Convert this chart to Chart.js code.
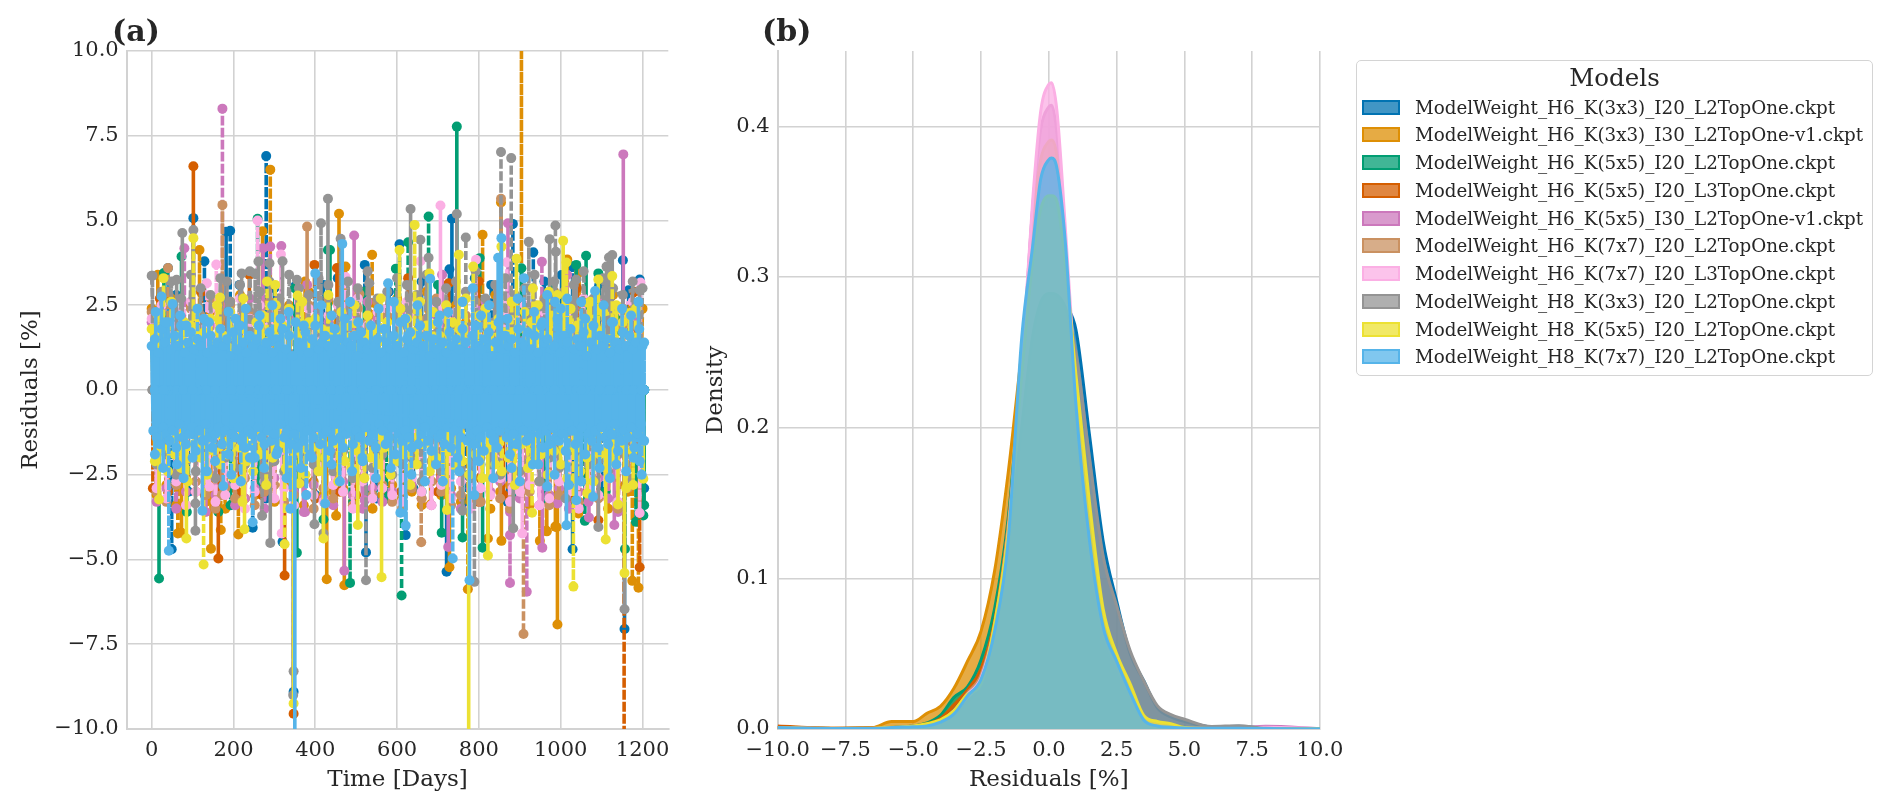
<!DOCTYPE html>
<html><head><meta charset="utf-8">
<script src="https://cdn.jsdelivr.net/npm/chart.js@4"></script>
<style>
html,body{margin:0;padding:0;background:#fff;overflow:hidden;width:1892px;height:811px}
canvas{position:absolute;top:0}
#legend{position:absolute;left:1356px;top:60px;width:517px;height:316px;border:1.5px solid #d4d4d4;border-radius:5px;box-sizing:border-box;font-family:"DejaVu Serif",serif;color:#262626}
#legend .t{position:absolute;left:0;right:0;top:0;text-align:center;font-size:24.5px;line-height:33px}
#legend .r{position:absolute;left:5px;height:28px;white-space:nowrap;font-size:18.3px;line-height:28px}
#legend .s{position:absolute;left:0;top:6px;width:38px;height:15px;box-sizing:border-box;border-width:2.5px;border-style:solid}
#legend .l{position:absolute;left:53px;top:0}
</style></head><body>
<canvas id="ca" width="690" height="811" style="left:0;width:690px;height:811px"></canvas>
<canvas id="cb" width="670" height="811" style="left:690px;width:670px;height:811px"></canvas>
<div id="legend"></div>
<script>
const modelNames=["ModelWeight_H6_K(3x3)_I20_L2TopOne.ckpt","ModelWeight_H6_K(3x3)_I30_L2TopOne-v1.ckpt","ModelWeight_H6_K(5x5)_I20_L2TopOne.ckpt","ModelWeight_H6_K(5x5)_I20_L3TopOne.ckpt","ModelWeight_H6_K(5x5)_I30_L2TopOne-v1.ckpt","ModelWeight_H6_K(7x7)_I20_L2TopOne.ckpt","ModelWeight_H6_K(7x7)_I20_L3TopOne.ckpt","ModelWeight_H8_K(3x3)_I20_L2TopOne.ckpt","ModelWeight_H8_K(5x5)_I20_L2TopOne.ckpt","ModelWeight_H8_K(7x7)_I20_L2TopOne.ckpt"];
const colors=["#0173B2","#DE8F05","#029E73","#D55E00","#CC78BC","#CA9161","#FBAFE4","#949494","#ECE133","#56B4E9"];
const xTicksA=[0,200,400,600,800,1000,1200];
const yTicksA=[-10,-7.5,-5,-2.5,0,2.5,5,7.5,10];
const xTicksB=[-10,-7.5,-5,-2.5,0,2.5,5,7.5,10];
const yTicksB=[0,0.1,0.2,0.3,0.4];

// Panel (a): day,residual pairs
const spikes0=[102,5.07,129,3.8,182,4.67,192,4.7,40,3.6,280,6.9,521,3.69,606,4.3,734,5.05,728,3.56,883,4.9,933,4.06,1029,3.64,1002,3.39,1094,3.09,1152,3.83,1166,2.94,1193,3.26,60,2.8,215,3.1,300,3,350,3.05,420,3.1,455,3.3,580,2.9,660,3.2,790,3.3,830,3.1,960,3.2,49,-4.7,247,-4.06,320,-4.48,347,-8.9,524,-4.79,621,-4.28,721,-5.36,973,-3.12,1029,-4.7,1156,-7.05,1204,-2.9,90,-3,160,-3.1,280,-3.2,400,-3.1,550,-3.2,640,-2.9,770,-3.4,870,-3.3,1100,-3];
const spikes1=[15,3.4,117,4.13,375,3.2,271,4.68,290,6.5,458,5.2,474,3.64,539,3.99,809,4.58,854,5.53,904,14,1016,3.85,1045,3.47,64,-4.23,73,-4.21,145,-4.68,169,-4.13,212,-4.26,428,-5.58,451,-3.71,471,-5.76,682,-3.38,728,-5.23,773,-5.88,822,-4.38,855,-4.45,949,-4.45,965,-4.15,987,-4.03,966,-4.17,990,-4.05,992,-6.92,1043,-3.64,1175,-5.63,1190,-5.83];
const spikes2=[30,3.45,73,3.94,259,5.05,431,4.13,436,4.13,597,3.58,627,4.36,677,5.12,746,7.77,802,3.89,904,3.59,1038,3.69,1062,3.96,1092,3.44,1140,2.45,350,3,520,2.9,700,3.1,980,3.1,18,-5.56,86,-3.6,163,-3.6,193,-3.4,355,-4.8,420,-3.82,485,-5.69,574,-3.2,611,-6.06,709,-4.21,760,-4.35,809,-4.65,1059,-3.86,1157,-4.69,1184,-3.89,1202,-3.7,1204,-3.4,60,-2.7,260,-2.9,540,-3,660,-3,900,-3.1,960,-3.2,1110,-3];
const spikes3=[102,6.6,398,3.69,122,2.9,239,3.4,453,3.6,627,3.3,726,3.15,800,3.2,1040,3,1180,2.9,20,2.7,163,-4.97,325,-5.47,347,-9.55,1155,-12,1092,-3.84,1193,-5.23,3,-2.9,40,-3,130,-3.1,210,-3,270,-3.1,400,-3.2,460,-3,500,-3.1,610,-3,700,-3,800,-3.3,860,-3.1,1020,-3.2,1065,-3];
const spikes4=[173,8.3,80,4.18,272,4.18,290,4.23,317,4.25,380,3.1,495,4.56,710,3.4,871,4.92,954,3.78,1016,3.39,1153,6.95,375,-3.6,471,-5.33,521,-3.25,725,-4.63,876,-5.69,876,-4.28,917,-5.95,955,-4.65,992,-3.35,1069,-3.76,1131,-3.98];
const spikes5=[40,3.6,173,5.46,380,4.82,508,2.83,854,5.64,171,-3.1,659,-4.49,909,-7.2];
const spikes6=[135,3.15,158,3.7,259,5,316,4,474,3.33,657,3.8,706,5.44,793,3.84,868,3.77,1195,3.17,141,-2.85,318,-4.23,906,-4.23,1193,-3.63];
const spikes7=[2,3.37,61,3.25,75,4.63,102,4.72,184,3.2,220,3.44,253,3.44,261,3.79,288,3.74,320,3.8,355,3.25,414,4.92,431,5.64,462,4.46,532,3.15,633,5.34,657,4.43,677,3.9,746,5.19,768,4.5,854,7.02,879,6.84,922,4.37,973,4.45,987,4.85,988,4.08,1038,3.26,1112,3.64,1118,3.91,1126,3.98,1193,2.94,107,-3.35,107,-4.15,270,-3.71,290,-4.51,347,-8.3,346,-9,398,-3.96,420,-4.23,524,-5.61,760,-3.56,789,-5.66,884,-4.08,1012,-3.2,1092,-4.04,1156,-6.47];
const spikes8=[102,4.48,29,3.3,282,3.2,302,3.1,357,2.79,167,2.73,606,4.13,643,4.87,679,3.44,751,3.99,786,3.64,855,4.23,892,3.87,932,3,971,2.9,1006,4.4,1014,3.76,1068,2.57,1092,3.26,1126,3.36,18,-3.23,85,-4.38,127,-5.15,222,-3.3,227,-4.11,325,-4.55,347,-9.25,361,-2.76,420,-4.38,504,-3.98,562,-5.52,722,-3.54,775,-13,822,-4.88,930,-3.62,1031,-5.8,1065,-3.05,1110,-4.41,1140,-3.38,1156,-5.4,1177,-2.8,1202,-2.62];
const spikes9=[24,2.76,51,2.54,188,2.31,400,3.44,466,4.31,578,3.15,681,3.28,785,3,847,3.9,855,4.48,910,3.3,967,2.8,986,2.6,1016,2.7,1084,2.92,42,-4.74,124,-3.56,175,-2.83,247,-3.9,339,-3.5,350,-14,378,-3.1,424,-3.35,608,-3.62,621,-4,736,-4.97,777,-5.61,789,-3.1,967,-2.85,1014,-3.99,1020,-2.8,1038,-3.25,1079,-3.15,1136,-2.2,1193,-2.1,1204,1.4,
10,2.3,33,2,70,2.2,85,1.9,112,2.4,140,2,205,2.1,230,2.4,262,1.9,295,2.5,315,2.1,335,2.3,372,1.9,415,2.5,440,2.2,485,2.6,505,2,555,2.4,592,2.6,620,2.1,650,2.5,700,2,725,2.3,760,2.6,805,2.2,825,2.5,870,2.1,895,2.7,935,2.3,955,2,1000,2.4,1050,2.6,1060,2.1,1105,2.5,1125,2,1150,2.4,1172,2.2,1190,2.6,
8,-1.9,28,-2.3,62,-2.2,78,-2.6,100,-2,135,-2.4,155,-2.1,195,-2.5,218,-2.7,240,-2,275,-2.3,305,-1.9,330,-2.6,365,-2.3,392,-2,440,-2.2,460,-2.7,490,-2.4,515,-2,548,-2.6,585,-2.3,635,-2.5,668,-2.7,695,-2.2,712,-2.7,752,-2.4,800,-2.1,835,-2.6,880,-2.3,900,-2.7,945,-2.2,985,-2.5,1050,-2.7,1095,-2.3,1120,-2.6,1160,-2.4,1178,-2,1198,-2.5];

// Dense swing of each model, one value per step of days
const bandOrange=[2.4,-3.1,2.1,-2.8,2.7,-3.4,2.2,-2.6,2.5,-3,2.9,-3.3,2.3,-2.7,2,-3.5,2.6,-2.9,2.8,-3.2,2.2,-3.1,2.4,-2.6,2.1,-3.3,2.7,-2.8,2.5,-3,2.3,-3.4,2.9,-2.7,2.2,-3.1,2.6,-3,2,-2.9,2.4,-3.3,2.8,-2.6,2.3,-3.5,2.5,-3.1,2.1,-2.8,2.7,-3.2,2.4,-3,2.2,-3.4,2.9,-2.7,2.6,-3.1,2.3,-2.9,2.5,-3.3,2,-3.2,2.7,-2.6,2.4,-3.5,2.8,-3,2.2,-2.8,2.6,-3.1,2.3,-3.4,2.1,-2.7,2.5,-3.2,2.9,-3,2.4,-2.6,2.2,-3.3,2.7,-2.9,2.3,-3.1,2.6,-3.5,2.8,-2.8,2.1,-3,2.5,-3.3,2.4];
const bandPurple=[2,-3.3,2.4,-2.9,1.8,-3.5,2.2,-3,2.6,-2.7,2.1,-3.6,1.9,-3.1,2.5,-2.8,2.3,-3.4,2,-3.2,2.7,-2.9,1.8,-3.5,2.2,-2.6,2.4,-3.3,2.1,-3,2.6,-3.6,1.9,-2.8,2.3,-3.2,2,-3.4,2.5,-2.7,2.2,-3.1,1.8,-3.5,2.6,-2.9,2.1,-3.3,2.4,-3,2,-3.6,2.3,-2.8,2.7,-3.2,1.9,-3.4,2.2,-2.6,2.5,-3.1,2.1,-3.5,1.8,-2.9,2.4,-3.3,2.6,-3,2,-2.7,2.3,-3.6,2.2,-3.2,1.9,-2.8,2.5,-3.4,2.1,-3.1,2.7,-2.9,1.8,-3.5,2.4,-3,2.2,-3.3,2,-2.6,2.6,-3.2,2.3,-3.6,1.9,-2.8,2.1];
const bandCaramel=[2.3,-3,2,-3.3,2.6,-2.8,1.9,-3.4,2.4,-2.7,2.2,-3.1,2.7,-3.5,2.1,-2.9,2.5,-3.2,1.8,-2.6,2.3,-3.4,2,-3,2.6,-2.8,2.2,-3.3,2.4,-3.1,1.9,-2.7,2.5,-3.5,2.1,-2.9,2.7,-3.2,2.3,-3,1.8,-3.4,2.4,-2.6,2,-3.1,2.6,-2.8,2.2,-3.3,2.5,-3.5,1.9,-2.9,2.3,-3.2,2.1,-2.7,2.7,-3,2.4,-3.4,1.8,-3.1,2.2,-2.8,2.6,-3.3,2,-2.6,2.5,-3.2,2.3,-3.5,1.9,-2.9,2.1,-3,2.4,-2.7,2.7,-3.4,2.2,-3.1,1.8,-2.8,2.6,-3.3,2,-3,2.3,-3.2,2.5,-2.6,2.1,-3.5,2.4,-2.9,1.9];
const bandPink=[2.1,-2.9,2.5,-3.2,1.9,-2.7,2.3,-3.4,2.6,-3,2,-2.6,2.4,-3.3,1.8,-3.1,2.2,-2.8,2.7,-3.5,2.1,-3,2.5,-2.7,1.9,-3.2,2.3,-2.9,2,-3.4,2.6,-2.6,2.4,-3.1,1.8,-3.3,2.2,-2.8,2.5,-3,2.1,-3.5,2.7,-2.7,1.9,-3.2,2.3,-2.9,2.4,-3.1,2,-3.3,2.6,-2.6,2.2,-3,1.8,-3.4,2.5,-2.8,2.1,-3.2,2.3,-2.7,2.7,-3.5,1.9,-2.9,2.4,-3.1,2,-2.6,2.6,-3.3,2.2,-3,2.5,-2.8,1.8,-3.4,2.3,-3.2,2.1,-2.7,2.4,-3,2,-3.5,2.7,-2.9,1.9,-3.1,2.5,-2.6,2.2,-3.3,2.3,-2.8,2.6];
const bandGray=[3.37,-2.2,2.9,-1.9,3.2,-2.5,2.7,-2.1,3.4,-2.4,3,-1.8,2.8,-2.6,3.3,-2,2.6,-2.3,3.1,-2.2,3.5,-1.7,2.9,-2.5,3.2,-2.1,2.7,-2.4,3.4,-1.9,3,-2.7,2.8,-2.2,3.3,-2,3.1,-2.4,2.6,-1.8,3.2,-2.6,3,-2.1,3.5,-2.3,2.7,-1.9,2.9,-2.5,3.3,-2.2,3.1,-2,2.8,-2.7,3.4,-2.1,2.6,-2.4,3,-1.8,3.2,-2.3,2.9,-2.6,3.5,-2,2.7,-2.2,3.1,-2.5,3.3,-1.9,2.8,-2.4,3,-2.1,3.4,-2.7,2.6,-2,3.2,-2.3,2.9,-1.8,3.1,-2.5,3.5,-2.2,2.7,-2.1,3.3,-2.4,3,-1.9,2.8,-2.6,3.2,-2,3];
const bandYellow=[1.8,-2.1,2.2,-1.7,1.5,-2.4,2.6,-1.9,1.6,-2.3,2,-2.7,1.9,-1.6,2.4,-2,1.7,-2.5,2.1,-1.8,2.5,-2.2,1.6,-1.9,2.3,-2.6,1.8,-1.7,2.7,-2.1,1.5,-2.4,2,-1.9,2.2,-2.8,1.7,-2,2.5,-1.6,1.9,-2.3,2.4,-2.2,1.6,-1.8,2.6,-2.5,2,-1.7,2.1,-2.4,1.8,-2,2.8,-1.6,1.7,-2.7,2.3,-2.1,1.9,-2.3,2.5,-1.8,1.6,-2.6,2.2,-2,1.8,-2.2,2.7,-1.7,2,-2.5,1.5,-2.1,2.4,-1.9,2.1,-2.8,1.7,-2.2,2.6,-1.6,1.9,-2.4,2.3,-2,1.6,-2.7,2.5,-1.8,2,-2.3,1.8,-2.1,2.7,-2.5,1.5,-1.9,2.2,-2.6,2.4,-1.7,1.9,-2.2,2.1,-2.4,1.7,-2,2.6,-2.8,1.8,-1.6,2.3,-2.3,2,-2.1,2.5,-1.9,1.6,-2.5,2.2,-1.8,2.8,-2.2,1.7,-2.6,2.4,-1.7,1.9,-2.4,2.1,-2,2.6,-2.7,1.8,-1.9,2.3,-2.3,1.5,-2.1,2.5,-1.6,2,-2.9,2.2,-1.8,2.4];
const bandBlue=[1.3,-1.2,1.5,-1.4,1.1,-1.6,1.8,-1.1,1.4,-1.3,2,-1.5,1.2,-1.2,1.6,-1.7,1.3,-1,1.9,-1.4,1.1,-1.6,1.4,-1.3,1.7,-1.1,1.2,-1.8,1.5,-1.2,1.3,-1.5,2.1,-1,1.1,-1.4,1.6,-1.7,1.2,-1.3,1.4,-1.1,1.8,-1.6,1.3,-1.2,1.5,-1.9,1,-1.3,1.7,-1.4,1.2,-1.1,1.9,-1.5,1.4,-1.7,1.1,-1.2,1.6,-1.3,1.3,-2,1.5,-1.1,2.2,-1.4,1.2,-1.6,1.4,-1.2,1.7,-1.5,1.1,-1.3,1.5,-1.8,1.3,-1,1.8,-1.4,1.2,-1.2,1.6,-1.6,1,-1.3,2,-1.7,1.4,-1.1,1.3,-1.5,1.7,-1.2,1.1,-1.9,1.5,-1.4,1.9,-1.1,1.2,-1.6,1.4,-1.3,1.6,-1.2,1.3,-1.8,1.1,-1.5,1.8,-1,1.5,-1.4,1.2,-1.7,2.1,-1.3,1.4,-1.1,1.3,-1.6,1.6,-1.2,1,-1.4,1.7,-2.1,1.4,-1.1,1.2,-1.5,1.9,-1.3,1.3,-1.7,1.5,-1,1.1,-1.2,1.8,-1.6,1.4,-1.4,1.2,-1.1,1.6,-1.9,1.3,-1.3,2,-1.5,1.1,-1.2,1.5,-1.4,1.7,-1.7,1.2,-1,1.4,-1.6,1.9,-1.3,1.3,-1.1,1.6,-1.5,1,-1.8,1.5,-1.2,1.2,-1.4,2.2,-1.3,1.4,-1.6,1.1,-1.1,1.7,-1.7,1.3,-1.2,1.5,-2,1.2,-1.4,1.8,-1,1.4,-1.5,1.1,-1.3,1.6,-1.6,1.9,-1.2,1.3,-1.4,1.2,-1.8,1.5,-1.1,1.7,-1.3,1,-1.5,1.4,-1.7,2,-1.2,1.2,-1,1.6,-1.4,1.3,-1.9,1.5,-1.3,1.1,-1.6,1.8,-1.1,1.4,-1.2,1.3,-1.5,1.7,-1.4,1.2,-2.2,1.6,-1,1.1,-1.3,1.9,-1.7,1.4,-1.2,1.5,-1.6,1.2,-1.1,1.3,-1.4,2.1,-1.5,1.1,-1.3,1.6,-1.8,1.4,-1,1.8,-1.2,1.2,-1.6,1.5,-1.4,1.3,-1.1,1.7,-1.9,1,-1.3,1.4,-1.5,1.9,-1.2,1.2,-1.7,1.6,-1.1,1.3,-1.4,1.5,-1.6,1.1,-1.3,2,-1,1.4,-1.8,1.2,-1.5,1.7,-1.2,1.3,-1.4,1.6,-1.1,1.2,-1.7,1.4,-1.3,1.8,-1,1.3,-1.5,1.1,-1.2,1.5].slice(0,302);
const bands={1:bandOrange,4:bandPurple,5:bandCaramel,6:bandPink,7:bandGray,8:bandYellow,9:bandBlue};
const bandStep={1:12,4:12,5:12,6:12,7:12,8:8,9:4};

// Panel (b): density curves at shared residual positions
const kdeX=[-10,-8,-6.5,-5.8,-5,-4.5,-4,-3.5,-3,-2.5,-2,-1.5,-1,-0.6,-0.3,0,0.1,0.3,0.6,1,1.5,2,2.5,3,3.5,4,4.5,5,6,7,8,10];
const kde0=[.001,.0004,.0006,.001,.0015,.0025,.005,.011,.02,.03,.065,.12,.2,.262,.292,.3,.3,.297,.283,.265,.195,.125,.085,.05,.032,.014,.008,.005,.0015,.0018,.0005,.0002];
const kde1=[.0015,.0005,.001,.005,.005,.0104,.015,.027,.045,.065,.105,.17,.25,.305,.33,.335,.335,.32,.28,.2,.12,.07,.04,.02,.007,.003,.002,.001,.0004,.0004,.0003,.0002];
const kde2=[.001,.0004,.0005,.001,.002,.004,.009,.021,.028,.046,.08,.14,.24,.315,.345,.352,.35,.34,.29,.205,.115,.065,.042,.024,.008,.003,.002,.001,.0005,.0012,.0003,.0002];
const kde3=[.002,.0005,.0006,.0012,.002,.0035,.007,.016,.026,.04,.072,.135,.235,.31,.338,.345,.345,.335,.288,.2,.115,.066,.044,.026,.009,.004,.002,.001,.0005,.0008,.0004,.0002];
const kde4=[.0008,.0004,.0005,.0008,.0015,.0025,.005,.012,.023,.034,.068,.13,.238,.345,.398,.413,.414,.395,.32,.195,.11,.06,.04,.022,.007,.003,.0015,.0008,.0005,.0007,.0018,.0002];
const kde5=[.0006,.0003,.0004,.0008,.0015,.0025,.005,.012,.024,.036,.07,.135,.24,.335,.378,.39,.391,.38,.315,.2,.115,.062,.042,.025,.008,.003,.0015,.0008,.0005,.0006,.0004,.0002];
const kde6=[.0006,.0003,.0004,.0008,.0015,.0025,.005,.012,.023,.034,.068,.13,.24,.35,.41,.428,.429,.41,.335,.225,.12,.065,.042,.023,.007,.003,.0015,.0008,.0005,.0006,.0012,.0002];
const kde7=[.0006,.0003,.0004,.0008,.002,.003,.004,.009,.018,.03,.065,.12,.2,.26,.283,.289,.289,.288,.28,.25,.18,.115,.082,.052,.032,.0155,.0095,.0065,.0017,.0022,.0005,.0002];
const kde8=[.0008,.0004,.0005,.0012,.002,.0035,.006,.012,.023,.03,.07,.13,.235,.31,.345,.354,.354,.35,.31,.235,.15,.08,.05,.03,.009,.005,.0035,.001,.0004,.0004,.0003,.0002];
const kde9=[.001,.0003,.0003,.001,.0015,.002,.0045,.01,.022,.033,.065,.125,.26,.32,.365,.378,.379,.372,.325,.215,.125,.068,.045,.024,.006,.002,.0012,.0007,.0005,.0005,.0003,.0002];

const allSpikes=[spikes0,spikes1,spikes2,spikes3,spikes4,spikes5,spikes6,spikes7,spikes8,spikes9];
const allKde=[kde0,kde1,kde2,kde3,kde4,kde5,kde6,kde7,kde8,kde9];

function residualPath(i){
  const pts=[];
  if(bands[i]) bands[i].forEach((v,k)=>pts.push({x:k*bandStep[i],y:v}));
  const s=allSpikes[i];
  for(let k=0;k<s.length;k+=2){pts.push({x:s[k],y:0});pts.push({x:s[k],y:s[k+1]});pts.push({x:s[k],y:0});}
  return pts;
}
const n=modelNames.length;
const rgba=(h,a)=>{const v=parseInt(h.slice(1),16);return `rgba(${v>>16},${(v>>8)&255},${v&255},${a})`;};
const FONT='"DejaVu Serif", serif';
const INK='#262626', GRID='#d2d2d2';
function fmt(v,d){return (v<0?'\u2212':'')+Math.abs(v).toFixed(d);}
function axis(o){return {
  type:'linear',min:o.min,max:o.max,
  border:{color:GRID,width:2},
  grid:{color:GRID,lineWidth:1.6,drawTicks:false},
  title:{display:true,text:o.title,color:INK,font:{family:FONT,size:23},padding:o.tp},
  ticks:{color:INK,font:{family:FONT,size:21},padding:o.pad,maxRotation:0,autoSkip:false,callback:v=>o.fmt(v)},
  afterBuildTicks:s=>{s.ticks=o.ticks.map(v=>({value:v}));},
  afterFit:s=>{if(o.w)s.width=o.w;if(o.h)s.height=o.h;s.paddingLeft=s.paddingRight=s.paddingTop=s.paddingBottom=0;}
};}
const panelLabel=(txt,x)=>({id:'panel'+txt,afterDraw(c){const g=c.ctx;g.save();g.font='bold 30px '+FONT;g.fillStyle=INK;g.textBaseline='middle';g.fillText(txt,x,33);g.restore();}});

Chart.defaults.animation=false;
new Chart(document.getElementById('ca'),{
  type:'scatter',
  data:{datasets:modelNames.map((m,i)=>({label:m,data:residualPath(i),showLine:true,order:n-i,borderColor:colors[i],backgroundColor:colors[i],borderWidth:3.6,borderDash:[9,3],pointRadius:5,pointBorderWidth:0,pointBackgroundColor:colors[i],tension:0,
    segment:{borderDash:c=>(i===9&&c.p1DataIndex<bandBlue.length)?[]:undefined}}))},
  options:{responsive:false,animation:false,
    layout:{padding:{left:0,right:21.7,top:51,bottom:17}},
    plugins:{legend:{display:false},tooltip:{enabled:false}},
    scales:{
      x:axis({min:-61,max:1263,title:'Time [Days]',ticks:xTicksA,fmt:v=>String(v),pad:9,h:65,tp:{top:6,bottom:0}}),
      y:axis({min:-10,max:10,title:'Residuals [%]',ticks:yTicksA,fmt:v=>fmt(v,1),pad:8,w:126.7,tp:{top:17,bottom:0}})
    }},
  plugins:[panelLabel('(a)',112)]
});
new Chart(document.getElementById('cb'),{
  type:'line',
  data:{datasets:modelNames.map((m,i)=>({label:m,data:kdeX.map((x,k)=>({x:x,y:allKde[i][k]})),order:n-i,borderColor:colors[i],backgroundColor:rgba(colors[i],0.75),borderWidth:3,pointRadius:0,fill:'origin',cubicInterpolationMode:'monotone'}))},
  options:{responsive:false,animation:false,
    layout:{padding:{left:0,right:40,top:51,bottom:17}},
    plugins:{legend:{display:false},tooltip:{enabled:false}},
    scales:{
      x:axis({min:-10,max:10,title:'Residuals [%]',ticks:xTicksB,fmt:v=>fmt(v,1),pad:9,h:65,tp:{top:6,bottom:0}}),
      y:axis({min:0,max:0.45,title:'Density',ticks:yTicksB,fmt:v=>fmt(v,1),pad:8,w:87.7,tp:{top:12,bottom:0}})
    }},
  plugins:[panelLabel('(b)',72)]
});
const lg=document.getElementById('legend');
lg.innerHTML='<div class="t">Models</div>'+modelNames.map((m,i)=>`<div class="r" style="top:${32.7+i*27.75}px"><span class="s" style="border-color:${colors[i]};background:${rgba(colors[i],0.75)}"></span><span class="l">${m}</span></div>`).join('');
</script>
</body></html>
